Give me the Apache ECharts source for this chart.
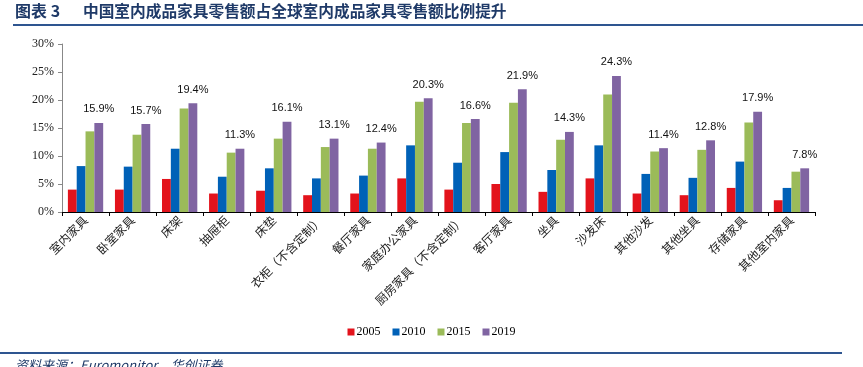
<!DOCTYPE html>
<html><head><meta charset="utf-8">
<script src="https://cdn.jsdelivr.net/npm/echarts@6/dist/echarts.min.js"></script>
<style>html,body{margin:0;padding:0;background:#fff}#c{width:863px;height:367px}</style>
</head><body><div id="c"></div>
<script>
const categories = ['室内家具','卧室家具','床架','抽屉柜','床垫','衣柜（不含定制）','餐厅家具','家庭办公家具','厨房家具（不含定制）','客厅家具','坐具','沙发床','其他沙发','其他坐具','存储家具','其他室内家具'];
const s2005 = [4.0,4.0,5.9,3.3,3.8,3.0,3.3,6.0,4.0,5.0,3.6,6.0,3.3,3.0,4.3,2.1];
const s2010 = [8.2,8.1,11.3,6.3,7.8,6.0,6.5,11.9,8.8,10.7,7.5,11.9,6.8,6.1,9.0,4.3];
const s2015 = [14.4,13.8,18.5,10.6,13.1,11.6,11.3,19.7,15.9,19.5,12.9,21.0,10.8,11.1,16.0,7.2];
const s2019 = [15.9,15.7,19.4,11.3,16.1,13.1,12.4,20.3,16.6,21.9,14.3,24.3,11.4,12.8,17.9,7.8];
const seriesNames = ['2005','2010','2015','2019'];
const colors = ['#E3131C','#0061B7','#9BBB59','#8064A2'];

const chart = echarts.init(document.getElementById('c'));
const data = [s2005,s2010,s2015,s2019];
chart.setOption({
  animation:false,
  graphic:[
    {type:'text',left:15,top:3,style:{text:'图表 3',font:'bold 16px "Noto Sans CJK SC"',fill:'#1F3A68'}},
    {type:'text',left:83,top:3,style:{text:'中国室内成品家具零售额占全球室内成品家具零售额比例提升',font:'bold 15.7px "Noto Sans CJK SC"',fill:'#1F3A68'}},
    {type:'rect',shape:{x:13,y:24,width:850,height:2},style:{fill:'#2E5590'}},
    {type:'rect',shape:{x:0,y:352,width:842,height:2},style:{fill:'#2E5590'}},
    {type:'text',left:15,top:359,style:{text:'资料来源：Euromonitor，华创证券',font:'italic 13px "Noto Sans CJK SC"',fill:'#1F3A68'}}
  ],
  legend:{
    data:seriesNames, bottom:24, left:'center', itemWidth:7, itemHeight:7, itemGap:12, icon:'rect',
    textStyle:{fontFamily:'Liberation Serif',fontSize:12,color:'#000',padding:[0,0,0,-3]}
  },
  grid:{left:62,right:48,top:44,bottom:155,containLabel:false},
  xAxis:{
    type:'category', data:categories,
    axisLine:{lineStyle:{color:'#000',width:1}},
    axisTick:{show:true,length:4,lineStyle:{color:'#000'}},
    axisLabel:{rotate:45,fontFamily:'Noto Sans CJK SC',fontSize:12,color:'#222',margin:6,interval:0}
  },
  yAxis:{
    type:'value', min:0, max:30, interval:5,
    axisLine:{show:true,lineStyle:{color:'#888'}},
    axisTick:{show:true,length:4,lineStyle:{color:'#888'}},
    splitLine:{show:false},
    axisLabel:{formatter:v=>v+'%',fontFamily:'Liberation Serif',fontSize:12,color:'#222',margin:8}
  },
  series: data.map((d,i)=>({
    name:seriesNames[i], type:'bar', data:d, barGap:'0%', barCategoryGap:'25%',
    itemStyle:{color:colors[i]},
    label: i===3 ? {show:true,position:'top',distance:8,formatter:p=>p.value.toFixed(1)+'%',fontFamily:'Liberation Sans',fontSize:11,color:'#111'} : {show:false}
  }))
});
</script></body></html>
